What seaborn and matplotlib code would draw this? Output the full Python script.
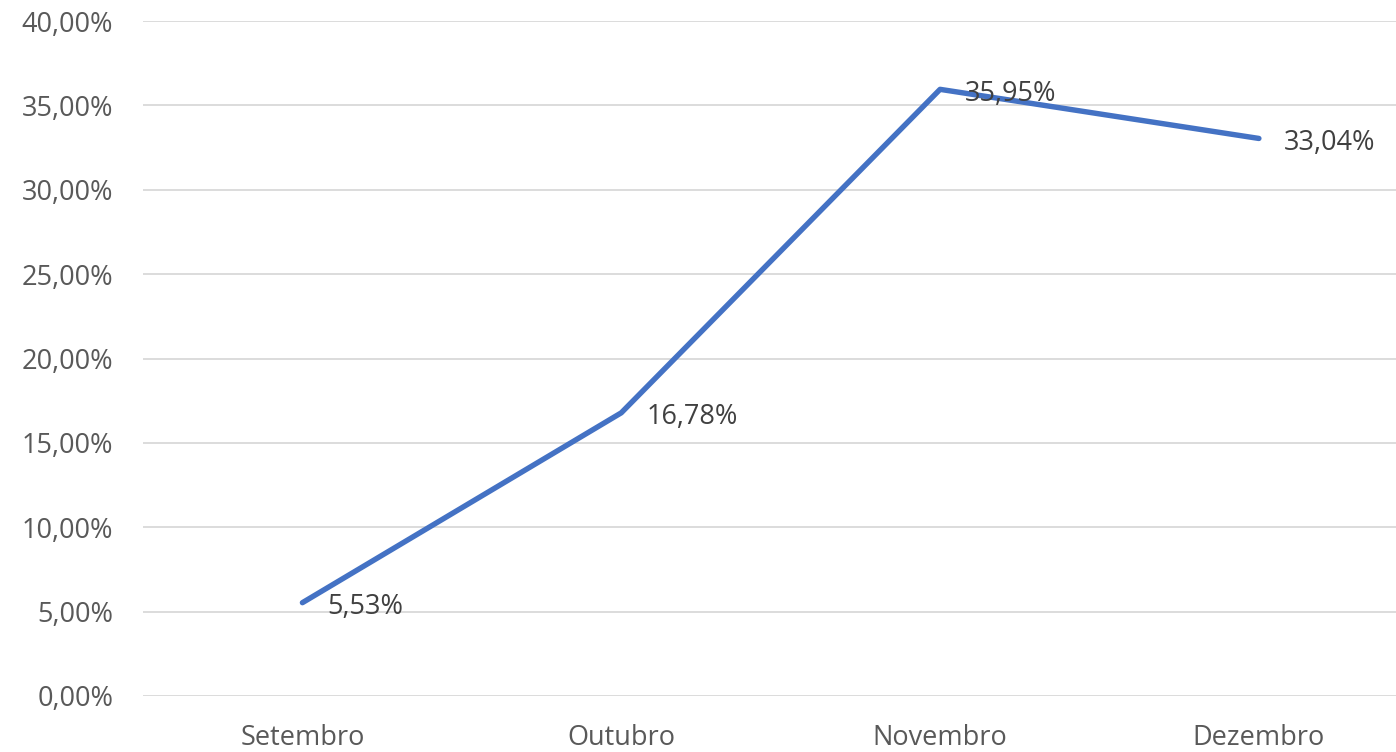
import matplotlib
matplotlib.use("Agg")
import matplotlib.pyplot as plt
import seaborn as sns
import pandas as pd
from matplotlib.ticker import FuncFormatter

#Data
meses = ["Setembro", "Outubro", "Novembro", "Dezembro"]
valores = [0.0553, 0.1678, 0.3595, 0.3304]

df = pd.DataFrame({"mes": meses, "valor": valores})

sns.set_theme(style="white")
plt.rcParams["font.family"] = ["Open Sans", "DejaVu Sans"]

fig = plt.figure(figsize=(13.96, 7.52), dpi=100)
ax = fig.add_axes([143 / 1396, 56 / 752, 1 - 143 / 1396, 675 / 752])

sns.lineplot(data=df, x="mes", y="valor", ax=ax, color="#4472C4",
             linewidth=3.9, solid_capstyle="round", sort=False)

ax.set_ylim(0, 0.40)
ax.set_xlim(-0.5, 3.43)
ax.set_yticks([i * 0.05 for i in range(9)])
ax.yaxis.set_major_formatter(FuncFormatter(lambda v, p: f"{v*100:.2f}%".replace(".", ",")))
ax.grid(axis="y", color="#D9D9D9", linewidth=1.3)
ax.set_axisbelow(True)
for s in ax.spines.values():
    s.set_visible(False)
ax.tick_params(axis="both", length=0, labelsize=19.5, colors="#595959")
ax.tick_params(axis="y", pad=21.5)
ax.tick_params(axis="x", pad=20)
ax.set_xlabel("")
ax.set_ylabel("")

#Data labels to the right of each point
for i, v in enumerate(valores):
    ax.annotate(f"{v*100:.2f}%".replace(".", ","), (i, v), xytext=(18, -3),
                textcoords="offset points", va="center", ha="left",
                fontsize=19.5, color="#404040")

fig.savefig("out.png", dpi=100)
